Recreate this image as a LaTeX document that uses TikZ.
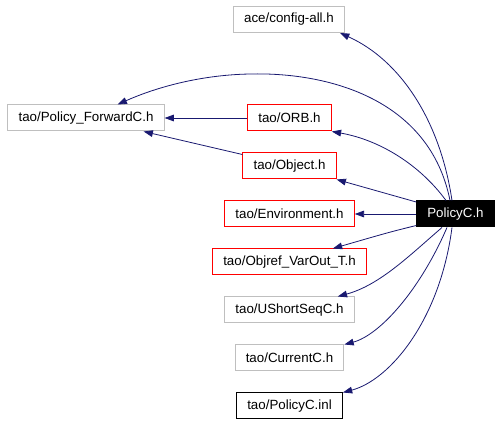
\documentclass[tikz,border=0pt]{standalone}
\usepackage{fontspec}
\setmainfont{Liberation Sans}
\usetikzlibrary{arrows.meta,calc}
\definecolor{edgeblue}{HTML}{191970}
\definecolor{boxgray}{HTML}{BFBFBF}
\begin{document}
\begin{tikzpicture}[x={(0.75pt,0)}, y={(0,-0.75pt)}, >={Triangle[length=7pt,width=5pt]},
    every node/.style={font=\fontsize{10}{12}\selectfont, rectangle, inner xsep=8pt, inner ysep=0pt, minimum height=19.5pt, line width=0.75pt},
    gbox/.style={draw=boxgray}, rbox/.style={draw=red}, kbox/.style={draw=black},
    mainbox/.style={draw=black, fill=black, text=white},
    dep/.style={->, edgeblue, line width=0.6pt}]
    \useasboundingbox (0,0) rectangle (501,424);

    % headers
    \node[gbox](cfg) at (289,19.5) {ace/config-all.h};
    \node[gbox](fwd) at (86,118) {tao/Policy\_ForwardC.h};
    \foreach \n/\t/\s[count=\i from 0] in {orb/{tao/ORB.h}/rbox, obj/{tao/Object.h}/rbox,
        env/{tao/Environment.h}/rbox, oref/{tao/Objref\_VarOut\_T.h}/rbox,
        ushort/{tao/UShortSeqC.h}/gbox, cur/{tao/CurrentC.h}/gbox, inl/{tao/PolicyC.inl}/kbox}
    {\node[\s](\n) at (289.5,{118+48*\i}) {\t};}
    \node[mainbox](pol) at (455.5,214) {PolicyC.h};

    % includes
    \draw[dep]($(pol.north)+(-3.5,0)$) .. controls (440,120) and (400,60) .. ($(cfg.south east)+(-5,0)$);
    \draw[dep]($(pol.north)+(-5.5,0)$) .. controls (430,100) and (330,72) .. (250,74)
        .. controls (195,75) and (150,90) .. ($(fwd.north east)+(-47,0)$);
    \draw[dep](orb.west)--(fwd.east);
    \draw[dep]($(obj.north west)+(0,2)$)--($(fwd.south east)+(-21,0)$);
    \draw[dep]($(pol.north)+(-9.5,0)$) .. controls (420,165) and (380,140) .. (orb.south east);
    \draw[dep]($(pol.north west)+(0,1.5)$)--(obj.south east);
    \draw[dep](pol.west)--(env.east);
    \draw[dep]($(pol.south west)+(0,-2)$) .. controls (390,232) .. ($(oref.north east)+(-34,0)$);
    \draw[dep]($(pol.south)+(-13.5,0)$) .. controls (410,255) and (380,285) .. ($(ushort.north east)+(-17,0)$);
    \draw[dep]($(pol.south)+(-8.5,0)$) .. controls (420,290) and (380,335) .. (cur.north east);
    \draw[dep]($(pol.south)+(-3.5,0)$) .. controls (440,320) and (390,380) .. (inl.north east);
\end{tikzpicture}
\end{document}
